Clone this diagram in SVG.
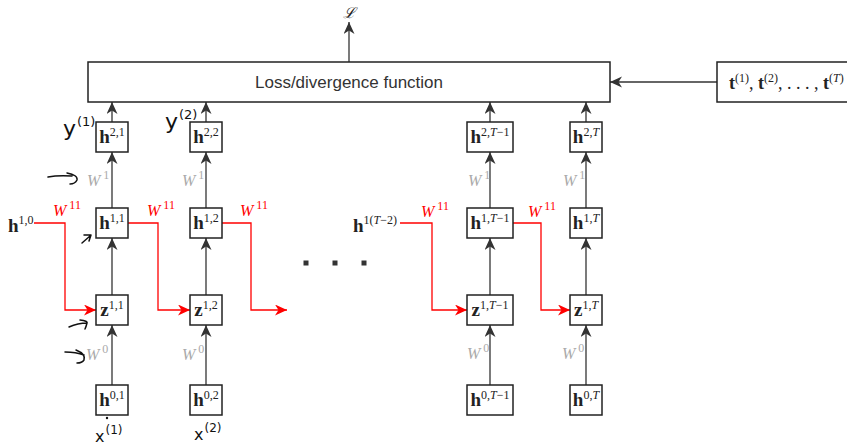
<svg xmlns="http://www.w3.org/2000/svg" width="847" height="448" viewBox="0 0 847 448">
<defs>
<marker id="ah" markerWidth="13" markerHeight="12" refX="12" refY="5.5" orient="auto" markerUnits="userSpaceOnUse"><path d="M0,0 L12,5.5 L0,11 L3.5,5.5 Z" fill="#333"/></marker>
<marker id="ahr" markerWidth="13" markerHeight="12" refX="12" refY="5.5" orient="auto" markerUnits="userSpaceOnUse"><path d="M0,0 L12,5.5 L0,11 L3.5,5.5 Z" fill="#f00"/></marker>
</defs>
<style>
.box{fill:#fff;stroke:#222;stroke-width:1.5}
.ln{stroke:#333;stroke-width:1.3;fill:none;marker-end:url(#ah)}
.rd{stroke:#f00;stroke-width:1.3;fill:none;marker-end:url(#ahr)}
.lbl{font-family:"Liberation Serif","DejaVu Serif",serif;font-size:19px;text-anchor:middle;fill:#222}
.b{font-weight:bold}
.sup{font-size:12px;font-weight:normal}
.i{font-style:italic}
.w{font-family:"Liberation Serif","DejaVu Serif",serif;font-style:italic;font-size:16px;fill:#aaa}
.wr{font-family:"Liberation Serif","DejaVu Serif",serif;font-style:italic;font-size:16px;fill:#f00}
.ws{font-size:12px;font-style:normal}
.hw{font-family:"DejaVu Sans",sans-serif;fill:#111}
.hs{stroke:#111;stroke-width:1.5;fill:none;stroke-linecap:round;stroke-linejoin:round}
</style>

<g id="connectors">
<path class="ln" d="M349,62 V22"/>
<path class="ln" d="M717,82 H610"/>
<path class="ln" d="M112,122 V102"/>
<path class="ln" d="M206,122 V102"/>
<path class="ln" d="M490,122 V102"/>
<path class="ln" d="M586,122 V102"/>
<path class="ln" d="M112,208 V152"/>
<path class="ln" d="M206,208 V152"/>
<path class="ln" d="M490,208 V152"/>
<path class="ln" d="M586,208 V152"/>
<path class="ln" d="M112,295 V238"/>
<path class="ln" d="M206,295 V238"/>
<path class="ln" d="M490,295 V238"/>
<path class="ln" d="M586,295 V238"/>
<path class="ln" d="M112,385 V325"/>
<path class="ln" d="M206,385 V325"/>
<path class="ln" d="M490,385 V325"/>
<path class="ln" d="M586,385 V325"/>
<path class="rd" d="M34,223 H65 V310 H96"/>
<path class="rd" d="M128,223 H158 V310 H190"/>
<path class="rd" d="M222,223 H251 V310 H287"/>
<path class="rd" d="M400,223 H432 V310 H467"/>
<path class="rd" d="M513,223 H541 V310 H570"/>
</g>

<g id="loss">
<rect class="box" x="88" y="62" width="522" height="40"/>
<text x="349" y="88" font-family="'Liberation Sans',Arial,sans-serif" font-size="17" text-anchor="middle" fill="#333">Loss/divergence function</text>
</g>
<g id="L"><text x="349" y="18" font-family="'DejaVu Serif',serif" font-style="italic" font-size="15" text-anchor="middle" fill="#222">ℒ</text></g>

<g id="targets">
<rect class="box" x="717" y="62" width="140" height="40"/>
<text x="729" y="89" font-family="'Liberation Serif',serif" font-size="18" fill="#222"><tspan class="b">t</tspan><tspan class="sup" dy="-7">(1)</tspan><tspan dy="7">, </tspan><tspan class="b">t</tspan><tspan class="sup" dy="-7">(2)</tspan><tspan dy="7">, . . . , </tspan><tspan class="b">t</tspan><tspan class="sup" dy="-7">(<tspan class="i">T</tspan>)</tspan></text>
</g>

<g id="h21"><rect class="box" x="96" y="122" width="32" height="30"/><text class="lbl" x="112" y="143"><tspan class="b">h</tspan><tspan class="sup" dy="-7">2,1</tspan></text></g>
<g id="h22"><rect class="box" x="190" y="122" width="32" height="30"/><text class="lbl" x="206" y="143"><tspan class="b">h</tspan><tspan class="sup" dy="-7">2,2</tspan></text></g>
<g id="h2Tm1"><rect class="box" x="467" y="122" width="46" height="30"/><text class="lbl" x="490" y="143"><tspan class="b">h</tspan><tspan class="sup" dy="-7">2,<tspan class="i">T</tspan>−1</tspan></text></g>
<g id="h2T"><rect class="box" x="570" y="122" width="32" height="30"/><text class="lbl" x="586" y="143"><tspan class="b">h</tspan><tspan class="sup" dy="-7">2,<tspan class="i">T</tspan></tspan></text></g>

<g id="h11"><rect class="box" x="96" y="208" width="32" height="30"/><text class="lbl" x="112" y="229"><tspan class="b">h</tspan><tspan class="sup" dy="-7">1,1</tspan></text></g>
<g id="h12"><rect class="box" x="190" y="208" width="32" height="30"/><text class="lbl" x="206" y="229"><tspan class="b">h</tspan><tspan class="sup" dy="-7">1,2</tspan></text></g>
<g id="h1Tm1"><rect class="box" x="467" y="208" width="46" height="30"/><text class="lbl" x="490" y="229"><tspan class="b">h</tspan><tspan class="sup" dy="-7">1,<tspan class="i">T</tspan>−1</tspan></text></g>
<g id="h1T"><rect class="box" x="570" y="208" width="32" height="30"/><text class="lbl" x="586" y="229"><tspan class="b">h</tspan><tspan class="sup" dy="-7">1,<tspan class="i">T</tspan></tspan></text></g>

<g id="z11"><rect class="box" x="96" y="295" width="32" height="30"/><text class="lbl" x="112" y="316"><tspan class="b">z</tspan><tspan class="sup" dy="-7">1,1</tspan></text></g>
<g id="z12"><rect class="box" x="190" y="295" width="32" height="30"/><text class="lbl" x="206" y="316"><tspan class="b">z</tspan><tspan class="sup" dy="-7">1,2</tspan></text></g>
<g id="z1Tm1"><rect class="box" x="467" y="295" width="46" height="30"/><text class="lbl" x="490" y="316"><tspan class="b">z</tspan><tspan class="sup" dy="-7">1,<tspan class="i">T</tspan>−1</tspan></text></g>
<g id="z1T"><rect class="box" x="570" y="295" width="32" height="30"/><text class="lbl" x="586" y="316"><tspan class="b">z</tspan><tspan class="sup" dy="-7">1,<tspan class="i">T</tspan></tspan></text></g>

<g id="h01"><rect class="box" x="96" y="385" width="32" height="30"/><text class="lbl" x="112" y="406"><tspan class="b">h</tspan><tspan class="sup" dy="-7">0,1</tspan></text></g>
<g id="h02"><rect class="box" x="190" y="385" width="32" height="30"/><text class="lbl" x="206" y="406"><tspan class="b">h</tspan><tspan class="sup" dy="-7">0,2</tspan></text></g>
<g id="h0Tm1"><rect class="box" x="467" y="385" width="46" height="30"/><text class="lbl" x="490" y="406"><tspan class="b">h</tspan><tspan class="sup" dy="-7">0,<tspan class="i">T</tspan>−1</tspan></text></g>
<g id="h0T"><rect class="box" x="570" y="385" width="32" height="30"/><text class="lbl" x="586" y="406"><tspan class="b">h</tspan><tspan class="sup" dy="-7">0,<tspan class="i">T</tspan></tspan></text></g>

<g id="h10"><text class="lbl" x="8" y="232" style="text-anchor:start"><tspan class="b">h</tspan><tspan class="sup" dy="-8">1,0</tspan></text></g>
<g id="h1Tm2"><text class="lbl" x="353" y="232" style="text-anchor:start"><tspan class="b">h</tspan><tspan class="sup" dy="-8">1(<tspan class="i">T</tspan>−2)</tspan></text></g>

<g id="weights">
<text class="w" x="87" y="186">W<tspan class="ws" dx="3" dy="-7">1</tspan></text>
<text class="w" x="182" y="186">W<tspan class="ws" dx="3" dy="-7">1</tspan></text>
<text class="w" x="468" y="186">W<tspan class="ws" dx="3" dy="-7">1</tspan></text>
<text class="w" x="563" y="186">W<tspan class="ws" dx="3" dy="-7">1</tspan></text>
<text class="w" x="86" y="360">W<tspan class="ws" dx="3" dy="-7">0</tspan></text>
<text class="w" x="182" y="360">W<tspan class="ws" dx="3" dy="-7">0</tspan></text>
<text class="w" x="467" y="359">W<tspan class="ws" dx="3" dy="-7">0</tspan></text>
<text class="w" x="562" y="359">W<tspan class="ws" dx="3" dy="-7">0</tspan></text>
<text class="wr" x="53" y="216">W<tspan class="ws" dx="3" dy="-7">11</tspan></text>
<text class="wr" x="147" y="216">W<tspan class="ws" dx="3" dy="-7">11</tspan></text>
<text class="wr" x="240" y="216">W<tspan class="ws" dx="3" dy="-7">11</tspan></text>
<text class="wr" x="421" y="217">W<tspan class="ws" dx="3" dy="-7">11</tspan></text>
<text class="wr" x="528" y="217">W<tspan class="ws" dx="3" dy="-7">11</tspan></text>
</g>

<g id="dots" fill="#333">
<rect x="303.5" y="260.5" width="5" height="5"/>
<rect x="332.5" y="260.5" width="5" height="5"/>
<rect x="361.5" y="260.5" width="5" height="5"/>
</g>

<g id="annotations">
<text class="hw" x="63" y="136" font-size="22">y<tspan font-size="13" dx="1" dy="-10">(1)</tspan></text>
<text class="hw" x="165" y="129" font-size="22">y<tspan font-size="13" dx="1" dy="-10">(2)</tspan></text>
<text class="hw" x="95" y="442" font-size="16">x<tspan font-size="12" dx="1" dy="-8">(1)</tspan></text>
<text class="hw" x="194" y="440" font-size="16">x<tspan font-size="12" dx="1" dy="-8">(2)</tspan></text>
<circle cx="107" cy="418" r="1.2" fill="#111"/>
<path class="hs" d="M48,177 Q58,175 72,176 M67,173 Q78,175 77,180 Q75,184 70,184"/>
<path class="hs" d="M82,243 L90,236 M84,235 L91,235 L89,241"/>
<path class="hs" d="M69,327 Q78,323 87,323 M80,320 Q88,321 87,323 Q86,327 85,329"/>
<path class="hs" d="M65,352 Q76,352 84,355 M76,350 Q86,354 84,360 Q82,363 77,363"/>
</g>
</svg>
